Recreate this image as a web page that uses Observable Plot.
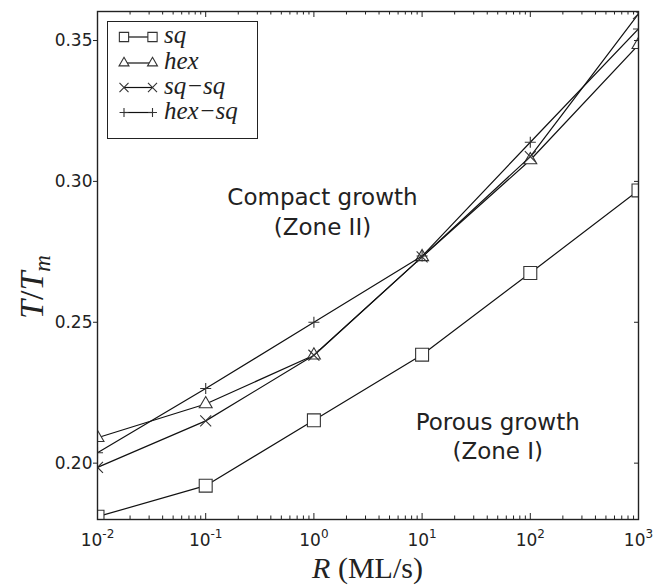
<!DOCTYPE html>
<html>
<head>
<meta charset="utf-8">
<script src="https://cdn.jsdelivr.net/npm/d3@7"></script>
<script src="https://cdn.jsdelivr.net/npm/@observablehq/plot@0.6"></script>
<style>
  html, body { margin: 0; padding: 0; background: #fff; }
  #chart { width: 667px; height: 585px; }
</style>
</head>
<body>
<div id="chart"></div>
<script>
// ---- data ----
const R = [0.01, 0.1, 1, 10, 100, 1000];
const sq    = [0.181, 0.192, 0.2152, 0.2385, 0.2675, 0.2968];
const hex   = [0.209, 0.221, 0.2383, 0.2732, 0.3076, 0.3485];
const sqsq  = [0.1985, 0.215, 0.2383, 0.2732, 0.3088, 0.3595];
const hexsq = [0.2037, 0.2265, 0.250, 0.2735, 0.3139, 0.3541];
const seriesNames = ["sq", "hex", "sq\u2212sq", "hex\u2212sq"];
const yTicks = [0.20, 0.25, 0.30, 0.35];
const xMajor = [0.01, 0.1, 1, 10, 100, 1000];
const xExp = ["-2", "-1", "0", "1", "2", "3"];
const minorMult = [2, 3, 4, 5, 6, 7, 8, 9];
const notes = [
  {x: 1.2, y: 0.2898, text: "Compact growth\n(Zone II)"},
  {x: 50, y: 0.2100, text: "Porous growth\n(Zone I)"}
];

// ---- layout ----
const W = 667, H = 585, mL = 97, mR = 29, mT = 11, mB = 66;
const innerW = W - mL - mR, innerH = H - mT - mB;
const ink = "#222";

const valueSets = [sq, hex, sqsq, hexsq];
const symbols = ["square", "triangle", "times", "plus"];
const symFill = ["white", "white", "none", "none"];
const symR = [7.3, 4.8, 5.05, 3.65];
const rows = valueSets.map((vals, s) => R.map((x, i) => ({x, y: vals[i], s})));
const xMinor = [];
xMajor.slice(0, -1).forEach(d => minorMult.forEach(m => xMinor.push(d * m)));

const marks = [];
rows.forEach((data, s) => {
  marks.push(Plot.line(data, {x: "x", y: "y", stroke: "#111", strokeWidth: 1.2, clip: true}));
  marks.push(Plot.dot(data, {x: "x", y: "y", symbol: symbols[s], r: symR[s], fill: symFill[s], stroke: "#333", strokeWidth: 1.1, clip: true}));
});
marks.push(
  Plot.text(notes, {x: "x", y: "y", text: "text", fontSize: 23, lineHeight: 1.3, fill: ink, fontFamily: "DejaVu Sans"}),
  Plot.frame({stroke: ink, strokeWidth: 1.4}),
  // x ticks inward, bottom & top
  Plot.tickX(xMajor, {x: d => d, insetTop: innerH - 6, stroke: ink}),
  Plot.tickX(xMajor, {x: d => d, insetBottom: innerH - 6, stroke: ink}),
  Plot.tickX(xMinor, {x: d => d, insetTop: innerH - 3.5, stroke: ink}),
  Plot.tickX(xMinor, {x: d => d, insetBottom: innerH - 3.5, stroke: ink}),
  // y ticks: right side inward
  Plot.tickY(yTicks, {y: d => d, insetLeft: innerW - 4, stroke: ink}),
  Plot.axisY({ticks: yTicks, tickSize: 4, tickPadding: 1, tickFormat: d3.format(".2f"), fontSize: 17, stroke: ink, fill: ink, label: null}),
  Plot.axisX({ticks: xMajor, tickSize: 0, tickPadding: 14, fontSize: 17, fill: ink, label: null,
    tickFormat: d => "10^" + xExp[xMajor.indexOf(d)]})
);

const chart = Plot.plot({
  width: W, height: H,
  marginLeft: mL, marginRight: mR, marginTop: mT, marginBottom: mB,
  style: {fontFamily: "DejaVu Sans", fontSize: "17px", color: ink, background: "white"},
  x: {type: "log", domain: [0.01, 1000]},
  y: {domain: [0.18, 0.3603]},
  marks
});
document.getElementById("chart").appendChild(chart);

const svg = d3.select(chart);

// superscript exponents on x tick labels
svg.selectAll('g[aria-label="x-axis tick label"] text').each(function () {
  const [b, e] = this.textContent.split("^");
  const t = d3.select(this);
  t.text(null);
  t.append("tspan").text(b);
  t.append("tspan").attr("dy", "-0.62em").attr("font-size", "12px").text(e);
});

// axis titles (math style)
const serif = "Liberation Serif, DejaVu Serif, serif";
const xl = svg.append("text").attr("x", mL + innerW / 2).attr("y", 578)
  .attr("text-anchor", "middle").attr("font-family", serif).attr("font-size", 30).attr("fill", ink);
xl.append("tspan").attr("font-style", "italic").text("R");
xl.append("tspan").text(" (ML/s)");

const yl = svg.append("text").attr("transform", `translate(43,${mT + innerH / 2 + 22}) rotate(-90)`)
  .attr("text-anchor", "middle").attr("font-family", serif).attr("font-size", 34).attr("fill", ink);
yl.append("tspan").attr("font-style", "italic").text("T");
yl.append("tspan").text("/");
yl.append("tspan").attr("font-style", "italic").text("T");
yl.append("tspan").attr("font-style", "italic").attr("font-size", "23px").attr("dy", "0.3em").text("m");

// legend
const lg = svg.append("g").attr("text-anchor", "start");
lg.append("rect").attr("x", 107.5).attr("y", 21.5).attr("width", 150).attr("height", 117)
  .attr("fill", "white").attr("stroke", ink).attr("stroke-width", 1);
const lgSym = [d3.symbolSquare, d3.symbolTriangle, d3.symbolTimes, d3.symbolPlus];
const lgSize = [86, 43, 55, 28];
const rowY = [37, 63, 87.5, 112.5];
seriesNames.forEach((name, i) => {
  const y = rowY[i];
  lg.append("line").attr("x1", 124).attr("x2", 152.5).attr("y1", y).attr("y2", y)
    .attr("stroke", "#111").attr("stroke-width", 1.2);
  [124, 152.5].forEach(x => {
    lg.append("path").attr("d", d3.symbol(lgSym[i], lgSize[i])())
      .attr("transform", `translate(${x},${y})`)
      .attr("fill", symFill[i]).attr("stroke", "#333").attr("stroke-width", 1.1);
  });
  lg.append("text").attr("x", 164).attr("y", y + 6).attr("text-anchor", "start")
    .attr("font-family", serif).attr("font-style", "italic").attr("font-size", 25)
    .attr("fill", ink).text(name);
});
</script>
</body>
</html>
